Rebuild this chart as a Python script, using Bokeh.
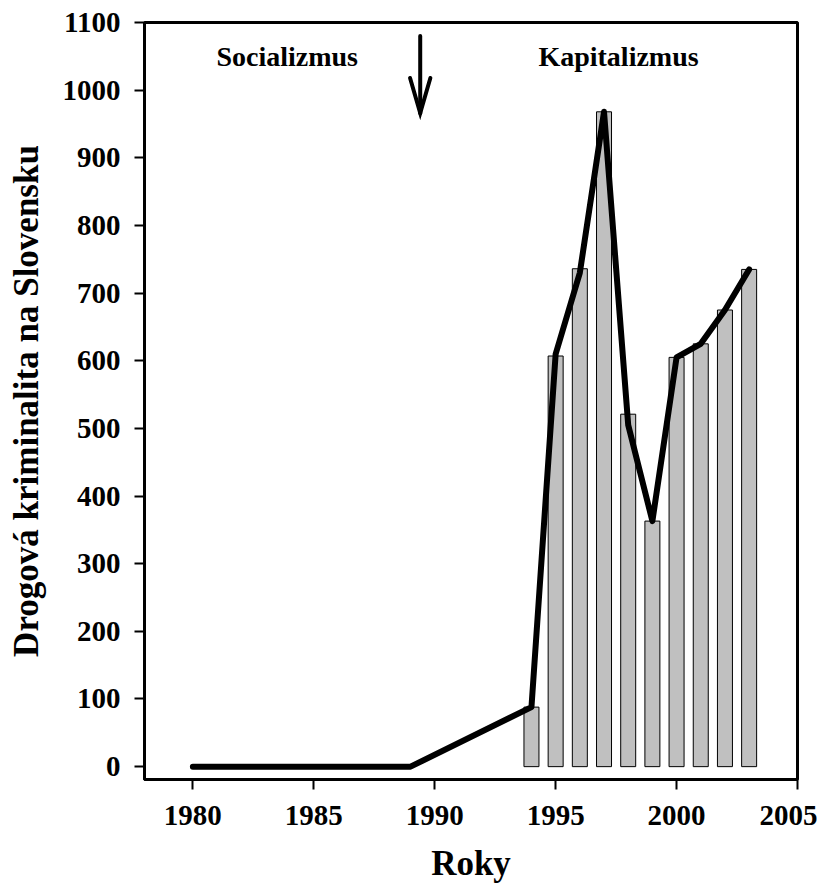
from bokeh.plotting import figure
from bokeh.models import FixedTicker, ColumnDataSource
from bokeh.core.properties import value
from bokeh.embed import file_html
from bokeh.resources import INLINE

# ---- data ----
bar_years = [1994, 1995, 1996, 1997, 1998, 1999, 2000, 2001, 2002, 2003]
bar_values = [88, 607, 736, 968, 521, 363, 605, 625, 675, 735]

line_years = [1980, 1989, 1994, 1995, 1996, 1997, 1998, 1999, 2000, 2001, 2002, 2003]
line_values = [0, 0, 88, 610, 730, 968, 505, 363, 605, 625, 675, 735]

x_ticks = [1980, 1985, 1990, 1995, 2000, 2005]
y_ticks = [0, 100, 200, 300, 400, 500, 600, 700, 800, 900, 1000, 1100]

period_labels = ["Socializmus", "Kapitalizmus"]
period_x = [1983.9, 1997.6]
period_y = [1050, 1050]

arrow_x = 1989.4
arrow_top = 1080
arrow_tip = 966

FONT = "Liberation Serif"

p = figure(
    frame_width=653, frame_height=757,
    x_range=(1978, 2005), y_range=(-19, 1100),
    output_backend="svg", toolbar_location=None,
    min_border_left=144, min_border_top=22, min_border_right=20, min_border_bottom=0,
)
p.background_fill_color = "white"
p.border_fill_color = "white"
p.outline_line_color = "black"
p.outline_line_width = 3
p.xgrid.visible = False
p.ygrid.visible = False

# bars
src = ColumnDataSource(dict(x=bar_years, top=bar_values))
p.vbar(x="x", top="top", bottom=0, width=0.62, source=src,
       fill_color="#c0c0c0", line_color="black", line_width=1)

# line
p.line(line_years, line_values, line_color="black", line_width=6,
       line_cap="round", line_join="round")

# period labels
p.text(x=period_x, y=period_y, text=period_labels,
       text_font=value(FONT), text_font_style="bold", text_font_size="28px",
       text_align="center", text_baseline="middle", text_color="black")

# arrow (shaft + head)
head_dx = 0.42
head_dy = 52
p.multi_line(
    xs=[[arrow_x, arrow_x], [arrow_x - head_dx, arrow_x, arrow_x + head_dx]],
    ys=[[arrow_top, arrow_tip], [arrow_tip + head_dy, arrow_tip, arrow_tip + head_dy]],
    line_color="black", line_width=4, line_cap="round", line_join="miter",
)

# axes
for ax in (p.xaxis[0], p.yaxis[0]):
    ax.axis_line_width = 3
    ax.axis_line_color = "black"
    ax.major_tick_line_width = 2
    ax.major_tick_out = 10
    ax.major_tick_in = 0
    ax.minor_tick_line_color = None
    ax.major_label_text_font = FONT
    ax.major_label_text_font_style = "bold"
    ax.major_label_text_font_size = "29px"
    ax.major_label_text_color = "black"
    ax.axis_label_text_font = FONT
    ax.axis_label_text_font_style = "bold"
    ax.axis_label_text_font_size = "35px"
    ax.axis_label_text_color = "black"

p.xaxis.ticker = FixedTicker(ticks=x_ticks)
p.yaxis.ticker = FixedTicker(ticks=y_ticks)
p.xaxis.axis_label = "Roky"
p.yaxis.axis_label = "Drogová kriminalita na Slovensku"
p.xaxis.major_label_standoff = 16
p.yaxis.major_label_standoff = 14
p.xaxis.axis_label_standoff = 16
p.yaxis.axis_label_standoff = 14

open("out.html", "w").write(file_html(p, INLINE))
